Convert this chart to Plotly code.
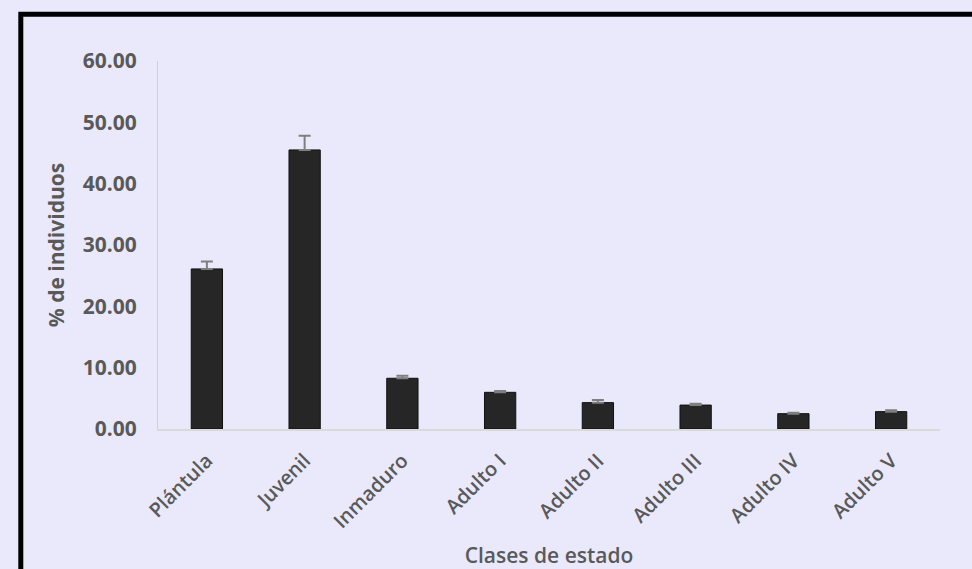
import plotly.graph_objects as go

categories = ["Plántula", "Juvenil", "Inmaduro", "Adulto I", "Adulto II", "Adulto III", "Adulto IV", "Adulto V"]
values = [26.1, 45.5, 8.27, 5.98, 4.3, 3.9, 2.5, 2.83]
errors = [1.2, 2.3, 0.43, 0.2, 0.43, 0.2, 0.16, 0.22]
y_ticks = [0, 10, 20, 30, 40, 50, 60]
y_tick_labels = ["0.00", "10.00", "20.00", "30.00", "40.00", "50.00", "60.00"]

BG = "#E9E9FB"
TXT = "#595959"
FONT = "Open Sans"

fig = go.Figure()
fig.add_trace(go.Bar(
    x=categories, y=values,
    marker=dict(color="#262626", line=dict(color="#111111", width=1)),
    width=0.32,
    error_y=dict(type="data", array=errors, symmetric=False, arrayminus=[0]*len(errors),
                 color="#7F7F7F", thickness=2, width=6),
))

fig.update_layout(
    width=972, height=569,
    paper_bgcolor=BG, plot_bgcolor=BG,
    margin=dict(l=158, r=32, t=61, b=140, autoexpand=False),
    showlegend=False,
    font=dict(family=FONT, color=TXT),
    xaxis=dict(
        tickangle=-45, tickfont=dict(size=20, color=TXT, family=FONT, weight=600),
        showgrid=False, showline=True, linecolor="#D9D9D9", linewidth=2,
        ticks="", automargin=False, ticklabelstandoff=10,
        title=dict(text="Clases de estado", font=dict(size=21, color=TXT, family=FONT, weight=600), standoff=18),
    ),
    yaxis=dict(
        range=[0, 60], tickvals=y_ticks, ticktext=y_tick_labels,
        tickfont=dict(size=21, color=TXT, family=FONT, weight="bold"),
        showgrid=False, zeroline=False, showline=True, linecolor="#D0D0D0", linewidth=1,
        ticks="", ticklabelstandoff=16, automargin=False,
        title=dict(text="% de individuos", font=dict(size=21, color=TXT, family=FONT, weight="bold"), standoff=12),
    ),
    shapes=[
        dict(type="rect", xref="paper", yref="paper",
             x0=(20.8 - 158) / 782, x1=(990 - 158) / 782,
             y0=(429 - 600) / 368, y1=(429 - 14.2) / 368,
             line=dict(color="black", width=5), fillcolor="rgba(0,0,0,0)", layer="below"),
    ],
)

fig.write_html("out.html", config={"displayModeBar": False},
               post_script="document.body.style.margin='0';")
